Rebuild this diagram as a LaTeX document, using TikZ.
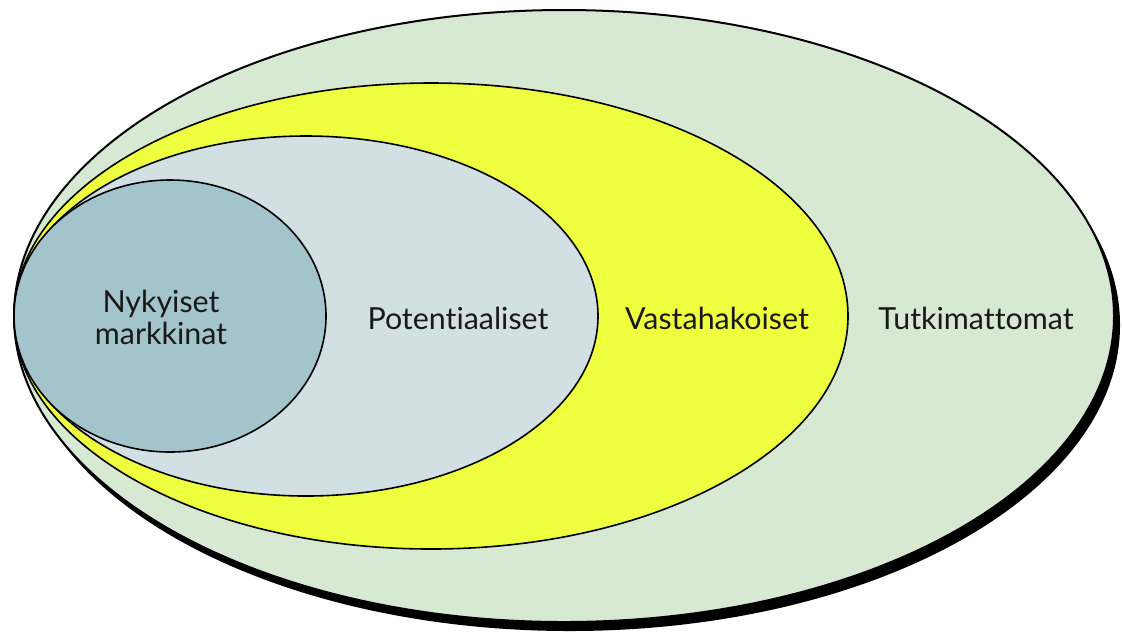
\documentclass[tikz,border=0pt]{standalone}
\usepackage{fontspec}
\setmainfont{Lato}[Ligatures=CommonOff]
\usepackage{tikz}
\usetikzlibrary{positioning}
\definecolor{mOuter}{HTML}{D8E9D3}
\definecolor{mYellow}{HTML}{EEFF40}
\definecolor{mPale}{HTML}{D2E0E4}
\definecolor{mTeal}{HTML}{A3C4CA}
\tikzset{
  ring/.style  = {draw=black, line width=0.8pt},
  lbl/.style   = {font=\fontsize{15.2}{17}\selectfont, text=black!90, align=center},
}
\begin{document}
\begin{tikzpicture}[x=0.5pt, y=-0.5pt]
  \useasboundingbox (0,0) rectangle (1122,634);
  % outer: shadow then fill
  \fill[black] (570,325) ellipse [x radius=550, y radius=306];
  \filldraw[mOuter, draw=black, line width=1pt] (564,316) ellipse [x radius=550, y radius=306];
  % nested rings, all touching at the left
  \filldraw[ring, fill=mYellow] (431,316) ellipse [x radius=417, y radius=233];
  \filldraw[ring, fill=mPale]   (306,316) ellipse [x radius=292, y radius=180];
  \filldraw[ring, fill=mTeal]   (170,316) ellipse [x radius=156, y radius=136];
  % labels
  \node[lbl] (nyk) at (161,317) {Nykyiset\\[-1pt]markkinat};
  \node[lbl] (pot) at (458,318) {Potentiaaliset};
  \node[lbl] (vas) at (717,318) {Vastahakoiset};
  \node[lbl] (tut) at (976,318) {Tutkimattomat};
\end{tikzpicture}
\end{document}
